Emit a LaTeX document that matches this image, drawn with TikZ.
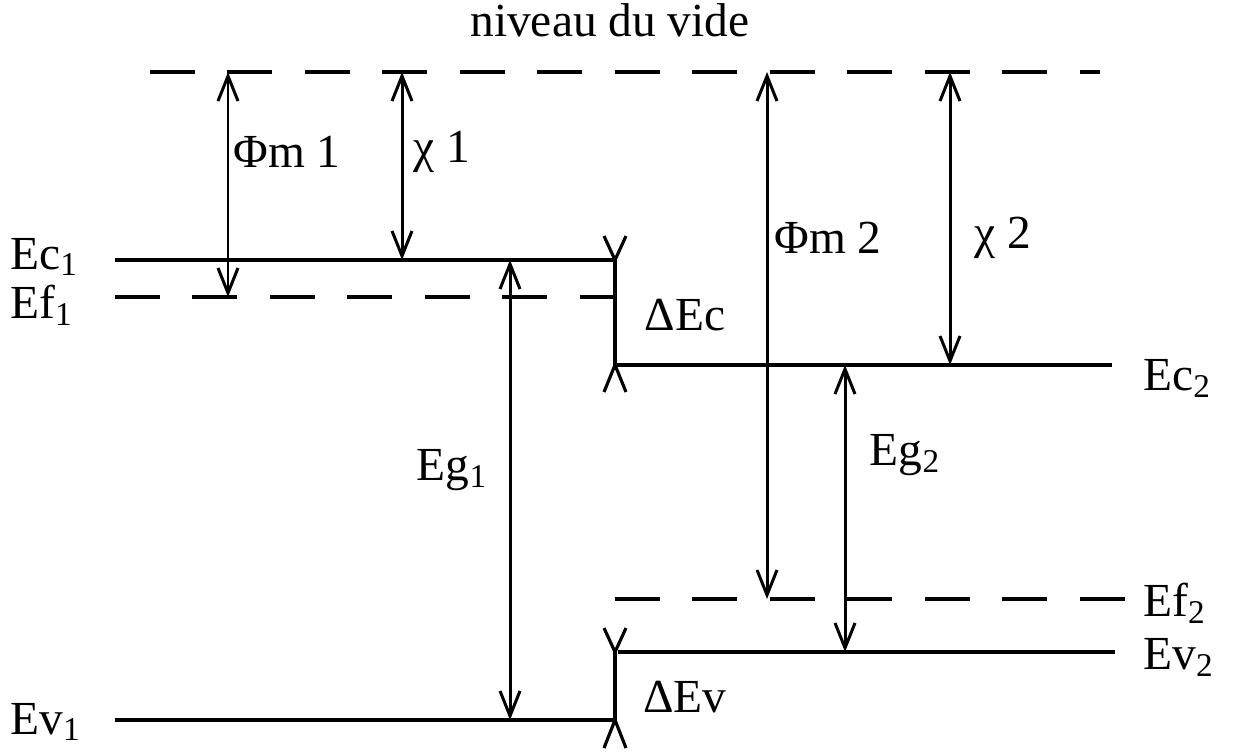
\documentclass[tikz,border=0pt]{standalone}
\usepackage{fontspec}
\setmainfont{Liberation Serif}
\usetikzlibrary{arrows.meta}

\tikzset{
  level/.style={line width=2.2pt},
  vlevel/.style={line width=2.2pt, dash pattern=on 0.9cm off 0.65cm},
  gap/.style={line width=1.7pt, {Straight Barb[length=0.5cm,width=0.4cm,line width=1.7pt]}-{Straight Barb[length=0.5cm,width=0.4cm,line width=1.7pt]}},
  barb/.style={line width=1.8pt},
  lab/.style={font=\fontsize{27}{31}\selectfont, inner sep=0pt},
}

\begin{document}
\begin{tikzpicture}[x=0.02cm,y=-0.02cm]
  \useasboundingbox (0,0) rectangle (1243,755);

  % niveaux
  \coordinate (vacL) at (150,72);  \coordinate (vacR) at (1100,72);
  \coordinate (ec1L) at (115,260); \coordinate (ec1R) at (615,260);
  \coordinate (ef1L) at (115,297); \coordinate (ef1R) at (615,297);
  \coordinate (ev1L) at (115,720); \coordinate (ev1R) at (615,720);
  \coordinate (ec2L) at (615,365); \coordinate (ec2R) at (1112,365);
  \coordinate (ef2L) at (615,599); \coordinate (ef2R) at (1125,599);
  \coordinate (ev2L) at (618,652); \coordinate (ev2R) at (1115,652);

  \draw[vlevel] (vacL) -- (vacR);
  \draw[level] (ec1L) -- (ec1R);
  \draw[vlevel] (ef1L) -- (ef1R);
  \draw[level] (ev1L) -- (ev1R);
  \draw[level] (ec2L) -- (ec2R);
  \draw[vlevel] (ef2L) -- (ef2R);
  \draw[level] (ev2L) -- (ev2R);

  % discontinuites
  \draw[level] (ec1R) -- (ec2L);
  \draw[level] (ev2L -| ev1R) -- (ev1R);
  \draw[barb] (604,236) -- (ec1R) -- (626,236);
  \draw[barb] (604,392) -- (ec2L) -- (626,392);
  \draw[barb] (604,628) -- (ev2L -| ev1R) -- (626,628);
  \draw[barb] (604,748) -- (ev1R) -- (626,748);

  % fleches
  \coordinate (phi1) at (228,0);
  \coordinate (chi1) at (402,0);
  \coordinate (eg1) at (510,0);
  \coordinate (phi2) at (767,0);
  \coordinate (eg2) at (845,0);
  \coordinate (chi2) at (950,0);

  \draw[gap] (phi1 |- vacL) -- (phi1 |- ef1L);
  \draw[gap] (chi1 |- vacL) -- (chi1 |- ec1L);
  \draw[gap] (eg1 |- ec1L) -- (eg1 |- ev1L);
  \draw[gap] (phi2 |- vacL) -- (phi2 |- ef2L);
  \draw[gap] (eg2 |- ec2L) -- (eg2 |- ev2L);
  \draw[gap] (chi2 |- vacL) -- (chi2 |- ec2L);

  % textes
  \node[lab] (vide) at (610,20) {niveau du vide};
  \node[lab] (tphi1) at (287,152) {Φm 1};
  \node[lab] (tchi1) at (442,152) {χ 1};
  \node[lab] (tphi2) at (828,238) {Φm 2};
  \node[lab] (tchi2) at (1003,238) {χ 2};
  \node[lab] (tdec) at (685,315) {ΔEc};
  \node[lab] (tdev) at (685,697) {ΔEv};
  \node[lab] (teg1) at (452,470) {Eg\textsubscript{1}};
  \node[lab] (teg2) at (905,455) {Eg\textsubscript{2}};
  \node[lab, anchor=west] (tec1) at (10,257) {Ec\textsubscript{1}};
  \node[lab, anchor=west] (tef1) at (10,305) {Ef\textsubscript{1}};
  \node[lab, anchor=west] (tev1) at (10,722) {Ev\textsubscript{1}};
  \node[lab, anchor=west] (tec2) at (1143,378) {Ec\textsubscript{2}};
  \node[lab, anchor=west] (tef2) at (1143,603) {Ef\textsubscript{2}};
  \node[lab, anchor=west] (tev2) at (1143,657) {Ev\textsubscript{2}};
\end{tikzpicture}
\end{document}
